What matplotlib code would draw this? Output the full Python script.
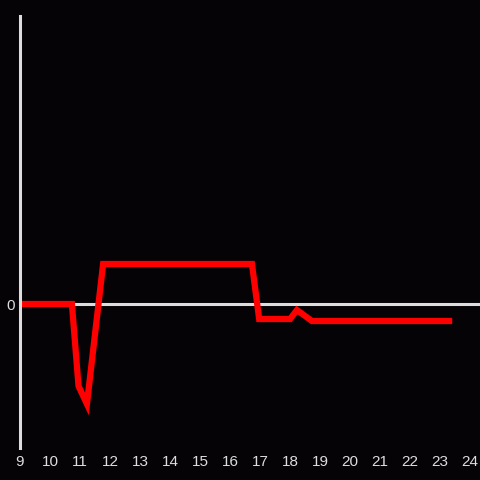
import matplotlib
matplotlib.use("Agg")
import matplotlib.pyplot as plt

# data (hours vs value)
hours = [9.0, 10.73, 10.95, 11.23, 11.77, 16.73, 16.97, 18.0, 18.23, 18.73, 23.3]
values = [0, 0, -8.2, -10.0, 4.0, 4.0, -1.5, -1.5, -0.6, -1.7, -1.7]
xticks = list(range(9, 25))

bg = "#050306"
axis_col = "#dddddd"

plt.rcParams["font.family"] = ["Liberation Sans", "DejaVu Sans"]

fig = plt.figure(figsize=(4.8, 4.8), dpi=100, facecolor=bg)
ax = fig.add_axes([20 / 480, 32 / 480, 460 / 480, 432 / 480])
ax.set_facecolor(bg)

ax.axhline(0, color=axis_col, lw=2.2, zorder=1)
ax.plot(hours, values, color="#ff0000", lw=4.5, solid_joinstyle="miter", zorder=2)

ax.set_xlim(9, 24.33)
ax.set_ylim(-14.4, 28.8)
ax.set_xticks(xticks)
ax.set_yticks([0])
ax.tick_params(length=0, colors="#dddddd", labelsize=11)
ax.tick_params(axis="x", pad=5)
ax.tick_params(axis="y", pad=4)

for s in ["top", "right", "bottom"]:
    ax.spines[s].set_visible(False)
ax.spines["left"].set_color(axis_col)
ax.spines["left"].set_linewidth(2.2)

fig.savefig("out.png", dpi=100, facecolor=bg)
